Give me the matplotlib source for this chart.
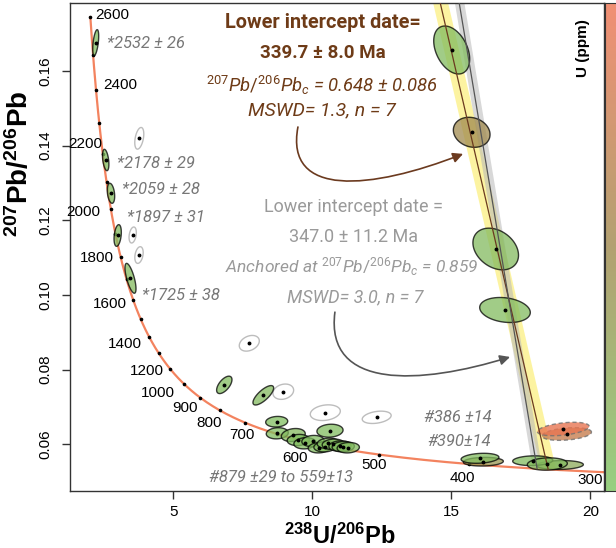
import numpy as np
import matplotlib
matplotlib.use("Agg")
import matplotlib.pyplot as plt
from matplotlib.patches import Polygon, FancyArrowPatch
from matplotlib.path import Path
from matplotlib.colors import LinearSegmentedColormap, Normalize

# ---------------- data ----------------
# decay constants (1/yr) and U ratio used for the Tera-Wasserburg concordia
LAMBDA238 = 1.55125e-10
LAMBDA235 = 9.8485e-10
U238_U235 = 137.818

concordia_tick_ages = list(range(300, 2700, 100))
concordia_label_ages = [300, 400, 500, 600, 700, 800, 900, 1000, 1200, 1400,
                        1600, 1800, 2000, 2200, 2400, 2600]

# grains: 238U/206Pb, 207Pb/206Pb, half-widths, error correlation, U (ppm), status
grain_x = [2.205, 2.565, 2.755, 2.996, 3.457,
           3.773, 3.536, 3.763, 7.730, 8.953, 10.464, 12.313,
           6.831, 8.234, 8.716, 8.737, 9.313, 9.493, 9.734, 10.633, 10.02,
           10.248, 10.453, 10.572, 10.752, 10.993, 11.11, 11.29,
           16.148, 16.029, 18.906, 17.925, 18.45, 19.148, 19.025,
           15.011, 15.730, 16.594, 16.928]
grain_y = [0.1676, 0.13616, 0.12724, 0.11594, 0.10447,
           0.14197, 0.11607, 0.1107, 0.08706, 0.07409, 0.06847, 0.06723,
           0.07592, 0.07313, 0.06605, 0.06295, 0.06249, 0.06115, 0.06027, 0.06364, 0.06088,
           0.05909, 0.05936, 0.06027, 0.0600, 0.05954, 0.05936, 0.05909,
           0.05534, 0.05625, 0.05445, 0.05561, 0.05472, 0.06276, 0.0641,
           0.16563, 0.14358, 0.11232, 0.09598]
grain_sx = [0.108, 0.115, 0.133, 0.131, 0.198,
            0.162, 0.131, 0.15, 0.36, 0.372, 0.54, 0.52,
            0.276, 0.372, 0.396, 0.396, 0.43, 0.40, 0.40, 0.47, 0.40,
            0.40, 0.40, 0.40, 0.40, 0.40, 0.40, 0.40,
            0.72, 0.68, 0.84, 0.72, 0.72, 0.89, 0.93,
            0.647, 0.66, 0.82, 0.91]
grain_sy = [0.00348, 0.00286, 0.00268, 0.0029, 0.0040,
            0.0029, 0.00214, 0.00223, 0.0021, 0.00205, 0.0021, 0.00165,
            0.00233, 0.0026, 0.00142, 0.0015, 0.00174, 0.0015, 0.0015, 0.00174, 0.0015,
            0.0014, 0.0014, 0.0014, 0.0014, 0.0014, 0.0014, 0.0014,
            0.00116, 0.00134, 0.0012, 0.0013, 0.00165, 0.0017, 0.0018,
            0.00643, 0.00402, 0.00558, 0.00335]
grain_rho = [0.5, -0.4, -0.3, 0.3, -0.7,
             0.4, 0.3, 0.3, 0.3, 0.2, 0.2, 0.3,
             0.6, 0.75, 0.1, 0.1, 0.2, 0.1, 0.1, 0.1, 0.1,
             0.1, 0.1, 0.1, 0.1, 0.1, 0.1, 0.1,
             0.1, 0.2, 0.1, 0.1, 0.1, 0.3, 0.4,
             -0.38, -0.15, -0.3, -0.2]
grain_U = [180, 190, 200, 210, 230,
           0, 0, 0, 0, 0, 0, 0,
           200, 220, 180, 190, 240, 170, 200, 190, 180,
           200, 210, 190, 220, 200, 180, 210,
           650, 200, 420, 200, 230, 1150, 1450,
           200, 800, 220, 200]
grain_status = ["in"] * 5 + ["out"] * 7 + ["in"] * 16 + ["in"] * 5 + ["dash"] * 2 + ["in"] * 4

# discordia results
free_common_pb = 0.648
free_intercept_age = 339.7
anchored_common_pb = 0.859
anchored_intercept_age = 347.0

x_ticks = [5, 10, 15, 20]
y_ticks = [0.06, 0.08, 0.10, 0.12, 0.14, 0.16]

# ---------------- style ----------------
NARROW = "Roboto"
plt.rcParams["font.family"] = ["Liberation Sans", "DejaVu Sans"]
plt.rcParams["mathtext.fontset"] = "custom"
plt.rcParams["mathtext.bf"] = "Liberation Sans:bold"
plt.rcParams["mathtext.it"] = "Roboto:italic"
plt.rcParams["mathtext.rm"] = "Roboto"

cmap = LinearSegmentedColormap.from_list("u", ["#7DC462", "#A08A4E", "#EE7452"])
norm = Normalize(vmin=100, vmax=1500)


def tw(age_ma):
    t = np.asarray(age_ma, dtype=float) * 1e6
    e8 = np.exp(LAMBDA238 * t) - 1
    e5 = np.exp(LAMBDA235 * t) - 1
    return 1 / e8, e5 / e8 / U238_U235


def ellipse_xy(x0, y0, sx, sy, rho, n=120):
    t = np.linspace(0, 2 * np.pi, n)
    cov = np.array([[sx * sx, rho * sx * sy], [rho * sx * sy, sy * sy]])
    L = np.linalg.cholesky(cov)
    pts = L @ np.vstack([np.cos(t), np.sin(t)])
    return np.column_stack([x0 + pts[0], y0 + pts[1]])


fig = plt.figure(figsize=(6.16, 5.48), dpi=100)
W, H = 616, 548
ax = fig.add_axes([70 / W, 1 - 491 / H, (604 - 70) / W, (491 - 3) / H])
ax.set_xlim(1.281, 20.489)
ax.set_ylim(0.04749, 0.17822)

# discordia bands and lines
def band(common, age, hw, color, alpha):
    xi, yi = tw(age)
    slope = (yi - common) / xi
    yy = np.linspace(yi, 0.18, 50)
    xx = (yy - common) / slope
    ax.fill_betweenx(yy, xx - hw, xx + hw, color=color, alpha=alpha, lw=0, zorder=1)
    xl = np.linspace(0, xi, 50)
    return xl, common + slope * xl

xl1, yl1 = band(free_common_pb, free_intercept_age, 0.27, "#FBEF7A", 0.7)
xl2, yl2 = band(anchored_common_pb, anchored_intercept_age, 0.17, "#B8B8B8", 0.55)

# concordia
ages = np.linspace(250, 2600, 400)
cx, cy = tw(ages)
ax.plot(cx, cy, color="#F3835F", lw=1.6, zorder=2)
tx, ty = tw(concordia_tick_ages)
ax.plot(tx, ty, ls="none", marker="o", ms=1.6, color="black", zorder=2.5)

label_offsets = {300: (-28, -7), 400: (-6, -14), 500: (-5, -10), 600: (-24, -13),
                 700: (-35, -1), 800: (-36, 0), 900: (-35, 2), 1000: (-42, 5),
                 1200: (-23, -2), 1400: (-24, -7), 1600: (-23, -4), 1800: (-24, -1),
                 2000: (-28, -3), 2200: (-17, 10), 2400: (24, 5), 2600: (22, 2)}
for a in concordia_label_ages:
    lx, ly = tw(a)
    ax.annotate(str(a), (lx, ly), xytext=label_offsets[a], textcoords="offset pixels",
                ha="center", va="center", fontsize=11, color="black",
                annotation_clip=False, zorder=6)

# ellipses
for i in range(len(grain_x)):
    poly = ellipse_xy(grain_x[i], grain_y[i], grain_sx[i], grain_sy[i], grain_rho[i])
    st = grain_status[i]
    if st == "out":
        p = Polygon(poly, closed=True, facecolor="none", edgecolor="#BDBDBD", lw=1.0, zorder=3)
    elif st == "dash":
        p = Polygon(poly, closed=True, facecolor=cmap(norm(grain_U[i])), alpha=0.8,
                    edgecolor="#707070", lw=1.0, ls=(0, (3, 2)), zorder=3)
    else:
        p = Polygon(poly, closed=True, facecolor=cmap(norm(grain_U[i])), alpha=0.75,
                    edgecolor="black", lw=1.0, zorder=3)
    ax.add_patch(p)
ax.plot(grain_x, grain_y, ls="none", marker="o", ms=1.8, color="black", zorder=5)

ax.plot(xl1, yl1, color="#6B3A1F", lw=0.9, zorder=4)
ax.plot(xl2, yl2, color="#555555", lw=0.9, zorder=4)

# axes styling
ax.set_xticks(x_ticks)
ax.set_yticks(y_ticks)
ax.set_xticklabels([str(v) for v in x_ticks], fontsize=11)
ax.set_yticklabels(["%.2f" % v for v in y_ticks], fontsize=11, rotation=90, va="center")
ax.tick_params(direction="out", length=6, width=1, color="#333333")
ax.tick_params(axis="x", pad=4)
ax.tick_params(axis="y", pad=7)
for s in ax.spines.values():
    s.set_color("#333333")
    s.set_linewidth(1.0)

fig.text(340 / W, 1 - 536 / H, r"$\mathbf{^{238}U/^{206}Pb}$", ha="center", va="center", fontsize=17)
fig.text(20 / W, 1 - 164 / H, r"$\mathbf{^{207}Pb/^{206}Pb}$", ha="center", va="center",
         fontsize=20, rotation=90)

# colour bar strip
cax = fig.add_axes([605 / W, 1 - 491 / H, 20 / W, (491 - 3) / H])
grad = np.linspace(norm.vmin, norm.vmax, 256).reshape(-1, 1)
cax.imshow(grad, aspect="auto", cmap=cmap, norm=norm, origin="lower", alpha=0.8,
           extent=[0, 1, 0, 1])
cax.set_xticks([])
cax.set_yticks([])
for s in cax.spines.values():
    s.set_color("#333333")
fig.text(583 / W, 1 - 48 / H, "U (ppm)", rotation=90, ha="center", va="center",
         fontsize=11, fontweight="bold")

# annotations
BROWN = "#6E3B17"
GREY = "#9A9A9A"
fig.text(323 / W, 1 - 23 / H, "Lower intercept date=", ha="center", va="center",
         fontsize=14.3, fontweight="bold", color=BROWN, family=NARROW)
fig.text(323 / W, 1 - 53 / H, "339.7 ± 8.0 Ma", ha="center", va="center",
         fontsize=13.5, fontweight="bold", color=BROWN, family=NARROW)
fig.text(322 / W, 1 - 85 / H, r"$\mathit{^{207}Pb/^{206}Pb_c}$ = 0.648 ± 0.086", ha="center",
         va="center", fontsize=13.3, style="italic", color=BROWN, family=NARROW)
fig.text(322 / W, 1 - 110 / H, "MSWD= 1.3, n = 7", ha="center", va="center",
         fontsize=14, style="italic", color=BROWN, family=NARROW)

fig.text(353 / W, 1 - 207 / H, "Lower intercept date =", ha="center", va="center",
         fontsize=13, color=GREY, family=NARROW)
fig.text(354 / W, 1 - 237 / H, "347.0 ± 11.2 Ma", ha="center", va="center",
         fontsize=13, color=GREY, family=NARROW)
fig.text(352 / W, 1 - 267 / H, r"Anchored at $\mathit{^{207}Pb/^{206}Pb_c}$ = 0.859", ha="center",
         va="center", fontsize=12.5, style="italic", color=GREY, family=NARROW)
fig.text(355 / W, 1 - 297 / H, "MSWD= 3.0, n = 7", ha="center", va="center",
         fontsize=13, style="italic", color=GREY, family=NARROW)

LBL = "#777777"
for txt, px, py in [("*2532 ± 26", 146, 43), ("*2178 ± 29", 156, 163),
                    ("*2059 ± 28", 161, 189), ("*1897 ± 31", 166, 218),
                    ("*1725 ± 38", 181, 295), ("#879 ±29 to 559±13", 281, 477),
                    ("#386 ±14", 458, 417), ("#390±14", 459, 442)]:
    fig.text(px / W, 1 - py / H, txt, ha="center", va="center", fontsize=12,
             style="italic", color=LBL, family=NARROW)

# curved arrows (data coordinates)
def curved_arrow(pts, color):
    path = Path(pts, [Path.MOVETO, Path.CURVE4, Path.CURVE4, Path.CURVE4])
    arr = FancyArrowPatch(path=path, arrowstyle="-|>,head_length=6,head_width=3",
                          color=color, lw=1.2, zorder=6)
    ax.add_patch(arr)

curved_arrow([(9.48, 0.1450), (9.0, 0.1260), (12.1, 0.1281), (15.42, 0.1378)], "#6B3A1F")
curved_arrow([(10.81, 0.0954), (10.45, 0.0745), (13.87, 0.0759), (17.11, 0.0834)], "#555555")

fig.savefig("out.png", dpi=100)
